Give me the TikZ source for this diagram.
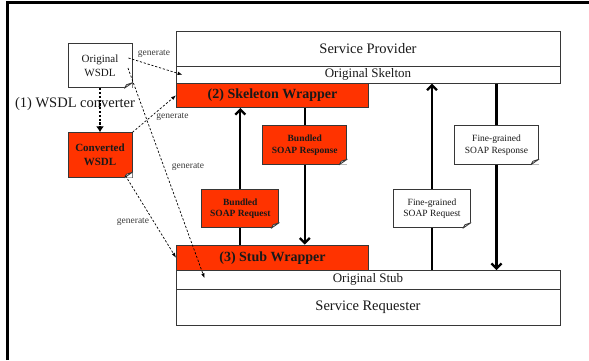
\documentclass[tikz,border=0pt]{standalone}
\usepackage{fontspec}
\setmainfont{Liberation Serif}
\usetikzlibrary{arrows.meta,backgrounds}
\definecolor{wred}{RGB}{255,51,0}
\definecolor{edge}{RGB}{55,55,55}
\definecolor{txt}{RGB}{25,25,25}
\begin{document}
\begin{tikzpicture}[x=1pt,y=-1pt,
  box/.style={draw=edge, line width=0.9pt, fill=white, inner sep=0pt, text=txt},
  layer/.style={box, minimum width=384pt, font=\fontsize{13}{15}\selectfont},
  big/.style={layer, font=\fontsize{14.5}{16}\selectfont},
  redbox/.style={box, fill=wred, minimum width=192pt, font=\bfseries\fontsize{14}{16}\selectfont},
  doc/.style={box, align=center},
  wsdl/.style={doc, minimum width=64pt, minimum height=44.5pt, font=\fontsize{11}{14}\selectfont},
  soap/.style={doc, minimum height=38.5pt, font=\fontsize{9.5}{11.5}\selectfont},
  flow/.style={line width=2.3pt, -{Straight Barb[length=5pt,width=10pt]}},
  gen/.style={dash pattern=on 2.2pt off 1.8pt, line width=0.7pt, -{Latex[length=5pt,width=3.5pt]}},
  conv/.style={dash pattern=on 2.2pt off 1.6pt, line width=2.6pt, -{Latex[length=6pt,width=8pt]}},
  genlbl/.style={font=\fontsize{9.5}{11}\selectfont, text=txt!85, inner sep=1pt},
  frame/.style={line width=3pt, black}]
\useasboundingbox (0,0) rectangle (589,360);
% frame
\coordinate (fl) at (7,360);
\coordinate (fc) at (7,2.5);
\coordinate (fr) at (589,2.5);
\draw[frame] (fl) -- (fc) -- (fr);

% layers
\node[big, minimum height=35.5pt] (sp) at (368,48.8) {Service Provider};
\node[layer, minimum height=16.5pt] (os) at (368,74.8) {Original Skelton};
\node[redbox, minimum height=24.5pt] (sw) at (272.5,95.3) {(2) Skeleton Wrapper};
\node[redbox, minimum height=25.5pt] (stw) at (272.5,257.8) {(3) Stub Wrapper};
\node[layer, minimum height=18.5pt] (ost) at (368,279.8) {Original Stub};
\node[big, minimum height=36pt] (sr) at (368,307) {Service Requester};

% documents
\node[wsdl] (ow) at (100,65.5) {Original\\WSDL};
\node[wsdl, fill=wred, font=\bfseries\fontsize{11}{14}\selectfont] (cw) at (100,155) {Converted\\WSDL};
\node[soap, fill=wred, minimum width=77pt, font=\bfseries\fontsize{9.5}{11.5}\selectfont] (bq) at (240.3,208.5) {Bundled\\SOAP Request};
\node[soap, fill=wred, minimum width=84pt, font=\bfseries\fontsize{9.5}{11.5}\selectfont] (br) at (304.8,145) {Bundled\\SOAP Response};
\node[soap, minimum width=77pt] (fq) at (432,208.5) {Fine-grained\\SOAP Request};
\node[soap, minimum width=84pt] (fg) at (496.5,145) {Fine-grained\\SOAP Response};

% folded corners
\foreach \n in {ow,cw,bq,br,fq,fg}{
  \fill[white] (\n.south east) -- ([xshift=-8pt]\n.south east) -- ([yshift=5.5pt]\n.south east) -- cycle;
  \draw[edge, line width=0.8pt, fill=white, line join=round]
    ([xshift=-8pt]\n.south east) -- ([yshift=5.5pt]\n.south east) -- ([shift={(-6pt,3.5pt)}]\n.south east) -- cycle;
}

% message flows (behind the documents)
\begin{scope}[on background layer]
\draw[flow] (bq |- stw.north) -- (bq |- sw.south);
\draw[flow] (br |- sw.south) -- (br |- stw.north);
\draw[flow] (fq |- ost.north) -- (fq |- os.south);
\draw[flow] (fg |- os.south) -- (fg |- ost.north);
\end{scope}

% converter
\node[font=\fontsize{14.5}{16}\selectfont, text=txt, inner sep=0pt] (convlbl) at (75,104) {(1) WSDL converter};
\draw[conv] (ow.south) -- (cw.north);

% generate arrows
\draw[gen] ([shift={(-4pt,7.5pt)}]ow.east) -- ([xshift=7pt]os.west);
\node[genlbl] (g1) at (154,53.5) {generate};
\draw[gen] ([shift={(-4.5pt,-2.5pt)}]ow.east) -- ([shift={(29pt,1.5pt)}]ost.west);
\node[genlbl] (g2) at (188,166.5) {generate};
\draw[gen] (cw.north east) -- (sw.west);
\node[genlbl] (g3) at (172.5,117) {generate};
\draw[gen] ([shift={(-7pt,2pt)}]cw.south east) -- (stw.west);
\node[genlbl] (g4) at (133,222) {generate};
\end{tikzpicture}
\end{document}
